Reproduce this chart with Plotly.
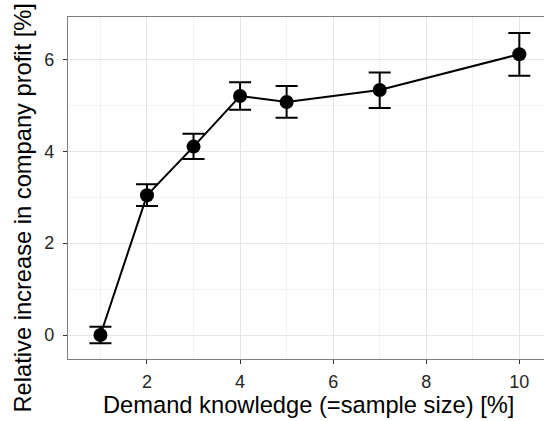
import plotly.graph_objects as go

sample_size = [1, 2, 3, 4, 5, 7, 10]
profit_increase = [0.0, 3.04, 4.10, 5.20, 5.07, 5.33, 6.11]
err_upper = [0.18, 0.24, 0.28, 0.30, 0.35, 0.38, 0.46]
err_lower = [0.18, 0.23, 0.27, 0.30, 0.34, 0.39, 0.47]

x_ticks = [2, 4, 6, 8, 10]
y_ticks = [0, 2, 4, 6]

fig = go.Figure()
fig.add_trace(go.Scatter(
    x=sample_size, y=profit_increase,
    mode="lines+markers",
    line=dict(color="black", width=2),
    marker=dict(color="black", size=14),
    error_y=dict(type="data", symmetric=False, array=err_upper, arrayminus=err_lower,
                 color="black", thickness=2, width=11),
    showlegend=False,
))

W, H = 544, 421
L, R, T, B = 68, 0, 17, 62
pw, ph = W - L - R, H - T - B

def px_x(p):
    return (p - L) / pw

def px_y(p):
    return (H - B - p) / ph

fig.update_layout(
    width=W, height=H,
    margin=dict(l=L, r=R, t=T, b=B, pad=0),
    paper_bgcolor="white", plot_bgcolor="white",
    font=dict(family="Liberation Sans, Arial, sans-serif", color="black"),
    xaxis=dict(
        range=[0.303, 10.53], tickvals=x_ticks, ticktext=[str(v) for v in x_ticks],
        showgrid=True, gridcolor="#e6e6e6", gridwidth=1,
        minor=dict(tickvals=[1, 3, 5, 7, 9], showgrid=True, gridcolor="#f3f3f3", gridwidth=1),
        showline=True, linecolor="#7f7f7f", linewidth=1.2, mirror=True,
        ticks="outside", ticklen=4, tickcolor="#333333", tickwidth=1.2,
        ticklabelstandoff=2,
        tickfont=dict(size=18, color="#262626"), zeroline=False,
    ),
    yaxis=dict(
        range=[-0.522, 6.92], tickvals=y_ticks, ticktext=[str(v) for v in y_ticks],
        showgrid=True, gridcolor="#e6e6e6", gridwidth=1,
        minor=dict(tickvals=[1, 3, 5], showgrid=True, gridcolor="#f3f3f3", gridwidth=1),
        showline=True, linecolor="#7f7f7f", linewidth=1.2,
        ticks="outside", ticklen=4, tickcolor="#333333", tickwidth=1.2,
        ticklabelstandoff=5,
        tickfont=dict(size=18, color="#262626"), zeroline=False,
    ),
    annotations=[
        dict(text="Demand knowledge (=sample size) [%]", xref="paper", yref="paper",
             x=px_x(308.5), y=px_y(390), xanchor="center", yanchor="top",
             showarrow=False, font=dict(size=23.7, color="black")),
        dict(text="Relative increase in company profit [%]", xref="paper", yref="paper",
             x=px_x(23), y=px_y(208.5), xanchor="center", yanchor="middle",
             textangle=-90, showarrow=False, font=dict(size=23.7, color="black")),
    ],
)

fig.write_html("out.html")
